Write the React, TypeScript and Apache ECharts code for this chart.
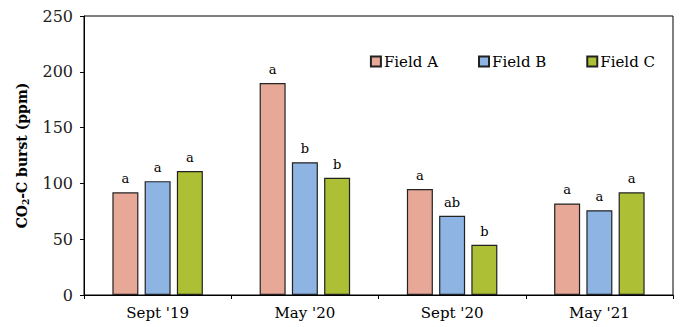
import React, { useEffect, useRef } from "react";
import * as echarts from "echarts";

const categories = ["Sept '19", "May '20", "Sept '20", "May '21"];
const seriesNames = ["Field A", "Field B", "Field C"];
const fieldA = [92, 190, 95, 82];
const fieldB = [102, 119, 71, 76];
const fieldC = [111, 105, 45, 92];
const lettersA = ["a", "a", "a", "a"];
const lettersB = ["a", "b", "ab", "a"];
const lettersC = ["a", "b", "b", "a"];
const yTicks = [0, 50, 100, 150, 200, 250];

const colors = ["#E8A898", "#8DB4E2", "#ADBF35"];
const FONT = "DejaVu Serif";

export default function App() {
  const ref = useRef<HTMLDivElement>(null);
  useEffect(() => {
    document.body.style.margin = "0";
    const chart = echarts.init(ref.current!, undefined, { renderer: "svg" });
    const values = [fieldA, fieldB, fieldC];
    const letters = [lettersA, lettersB, lettersC];
    chart.setOption({
      animation: false,
      textStyle: { fontFamily: FONT },
      grid: {
        left: 84,
        right: 7,
        top: 16,
        bottom: 32,
        show: true,
        borderColor: "#000",
        borderWidth: 1,
        backgroundColor: "transparent",
      },
      legend: {
        top: 49,
        right: 20,
        itemWidth: 10,
        itemHeight: 10,
        itemGap: 40,
        icon: "rect",
        textStyle: { fontFamily: FONT, fontSize: 15, color: "#000", padding: [0, 0, 0, -2] },
        data: seriesNames,
      },
      xAxis: {
        type: "category",
        data: categories,
        axisLine: { lineStyle: { color: "#000", width: 1 } },
        axisTick: { show: true, length: 4, lineStyle: { color: "#000" } },
        axisLabel: { fontFamily: FONT, fontSize: 15, color: "#000", margin: 10 },
      },
      yAxis: {
        type: "value",
        min: yTicks[0],
        max: yTicks[yTicks.length - 1],
        interval: 50,
        splitLine: { show: false },
        axisLine: { show: true, lineStyle: { color: "#000", width: 1 } },
        axisTick: { show: true, length: 4, lineStyle: { color: "#000" } },
        axisLabel: { fontFamily: FONT, fontSize: 16, color: "#222", margin: 11 },
        name: "{b|CO}{s|2}{b|-C burst (ppm)}",
        nameLocation: "middle",
        nameGap: 54,
        nameRotate: 90,
        nameTextStyle: {
          rich: {
            b: { fontFamily: FONT, fontSize: 14, fontWeight: "bold", color: "#000" },
            s: { fontFamily: FONT, fontSize: 9, fontWeight: "bold", color: "#000", padding: [7, 0, 0, 0] },
          },
        },
      },
      series: seriesNames.map((name, i) => ({
        name,
        type: "bar",
        data: values[i],
        barWidth: 26,
        barGap: "24%",
        itemStyle: { color: colors[i], borderColor: "#222", borderWidth: 1.2 },
        label: {
          show: true,
          position: "top",
          distance: 7,
          fontFamily: FONT,
          fontSize: 13,
          color: "#000",
          formatter: (p: any) => letters[i][p.dataIndex],
        },
      })),
    });
    return () => chart.dispose();
  }, []);
  return <div ref={ref} style={{ width: 680, height: 327 }} />;
}
